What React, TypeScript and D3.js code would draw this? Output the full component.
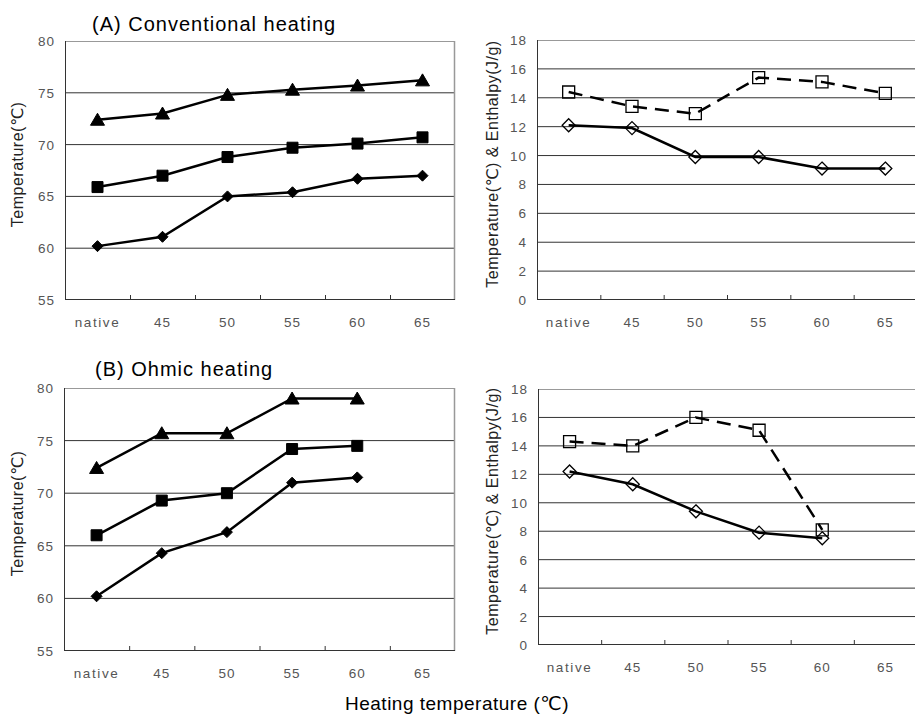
import React from 'react';
import * as d3 from 'd3';

// x categories (heating temperature)
const categories = ['native', '45', '50', '55', '60', '65'];

// (A) conventional heating, transition temperatures (℃)
const convOnset = [60.2, 61.1, 65.0, 65.4, 66.7, 67.0];
const convPeak = [65.9, 67.0, 68.8, 69.7, 70.1, 70.7];
const convConclusion = [72.4, 73.0, 74.8, 75.3, 75.7, 76.2];
// (A) range (℃) and enthalpy (J/g)
const convRange = [12.1, 11.9, 9.9, 9.9, 9.1, 9.1];
const convEnthalpy = [14.4, 13.4, 12.9, 15.4, 15.1, 14.3];

// (B) ohmic heating (no 65 sample)
const ohmOnset = [60.2, 64.3, 66.3, 71.0, 71.5];
const ohmPeak = [66.0, 69.3, 70.0, 74.2, 74.5];
const ohmConclusion = [72.4, 75.7, 75.7, 79.0, 79.0];
const ohmRange = [12.2, 11.3, 9.4, 7.9, 7.5];
const ohmEnthalpy = [14.3, 14.0, 16.0, 15.1, 8.1];

const tempTicks = [55, 60, 65, 70, 75, 80];
const dscTicks = [0, 2, 4, 6, 8, 10, 12, 14, 16, 18];

const FONT = '"Liberation Sans", "DejaVu Sans", Arial, sans-serif';

type Marker = 'triangle' | 'square' | 'diamond';
type Series = { values: number[]; marker: Marker; filled: boolean; dashed?: boolean };

function markerPath(kind: Marker, filled: boolean) {
  if (kind === 'triangle') return 'M0,-6.5L7,5.5L-7,5.5Z';
  if (kind === 'square') return filled ? 'M-5.5,-5.5H5.5V5.5H-5.5Z' : 'M-6,-6H6V6H-6Z';
  return filled ? 'M0,-5.5L5.5,0L0,5.5L-5.5,0Z' : 'M0,-6.5L6.5,0L0,6.5L-6.5,0Z';
}

type PanelProps = {
  left: number; right: number; top: number; bottom: number;
  ticks: number[]; series: Series[]; yTitle: string; yTitleX: number;
};

function Panel({ left, right, top, bottom, ticks, series, yTitle, yTitleX }: PanelProps) {
  const x = d3.scaleBand<string>().domain(categories).range([left, right]);
  const y = d3.scaleLinear().domain([ticks[0], ticks[ticks.length - 1]]).range([bottom, top]);
  const line = d3.line<number>()
    .x((_, i) => (x(categories[i]) as number) + x.bandwidth() / 2)
    .y(d => y(d));
  const inner = ticks.slice(1, -1);
  return (
    <g>
      {inner.map(t => (
        <line key={t} x1={left} x2={right} y1={y(t)} y2={y(t)} stroke="#333" strokeWidth={1} />
      ))}
      <line x1={left} x2={right} y1={top + 0.5} y2={top + 0.5} stroke="#999" strokeWidth={1} />
      <line x1={right - 0.5} x2={right - 0.5} y1={top} y2={bottom} stroke="#999" strokeWidth={1.5} />
      <line x1={left + 0.5} x2={left + 0.5} y1={top} y2={bottom} stroke="#333" strokeWidth={1} />
      <line x1={left} x2={right} y1={bottom - 0.5} y2={bottom - 0.5} stroke="#333" strokeWidth={1} />
      {categories.slice(1).map(c => (
        <line key={c} x1={(x(c) as number) + 0.5} x2={(x(c) as number) + 0.5}
          y1={bottom} y2={bottom - 5} stroke="#333" strokeWidth={1} />
      ))}
      {ticks.map(t => (
        <text key={t} x={left - 10} y={y(t) + 5} textAnchor="end" fontSize={13.5}
          fill="#555" fontFamily={FONT} letterSpacing={1}>{t}</text>
      ))}
      {categories.map(c => (
        <text key={c} x={(x(c) as number) + x.bandwidth() / 2} y={bottom + 27} textAnchor="middle"
          fontSize={13.5} fill="#555" fontFamily={FONT}
          letterSpacing={c === 'native' ? 1.6 : 1}>{c}</text>
      ))}
      <text transform={`translate(${yTitleX},${(top + bottom) / 2 - 6}) rotate(-90)`} textAnchor="middle"
        fontSize={16} fill="#222" fontFamily={FONT} letterSpacing={0.5}>{yTitle}</text>
      {series.map((s, k) => (
        <g key={k}>
          <path d={line(s.values) || ''} fill="none" stroke="#000" strokeWidth={2.5}
            strokeDasharray={s.dashed ? '14,8' : undefined} />
          {s.values.map((v, i) => (
            <path key={i} d={markerPath(s.marker, s.filled)}
              transform={`translate(${(x(categories[i]) as number) + x.bandwidth() / 2},${y(v)})`}
              fill={s.filled ? '#000' : 'none'} stroke="#000" strokeWidth={s.filled ? 1 : 1.3} />
          ))}
        </g>
      ))}
    </g>
  );
}

export default function App() {
  return (
    <svg width={915} height={725} style={{ position: 'absolute', left: 0, top: 0, background: '#fff' }}>
      <rect width={915} height={725} fill="#fff" />
      <text x={92} y={31} fontSize={20} fontFamily={FONT} fill="#000" letterSpacing={1}>(A) Conventional heating</text>
      <text x={95} y={376} fontSize={20} fontFamily={FONT} fill="#000" letterSpacing={1}>(B) Ohmic heating</text>
      <Panel left={65} right={455} top={41} bottom={300} ticks={tempTicks} yTitle="Temperature(℃)" yTitleX={23}
        series={[
          { values: convConclusion, marker: 'triangle', filled: true },
          { values: convPeak, marker: 'square', filled: true },
          { values: convOnset, marker: 'diamond', filled: true },
        ]} />
      <Panel left={537} right={917} top={40} bottom={300} ticks={dscTicks}
        yTitle="Temperature(℃) & Enthalpy(J/g)" yTitleX={498}
        series={[
          { values: convEnthalpy, marker: 'square', filled: false, dashed: true },
          { values: convRange, marker: 'diamond', filled: false },
        ]} />
      <Panel left={64} right={455} top={388} bottom={651} ticks={tempTicks} yTitle="Temperature(℃)" yTitleX={23}
        series={[
          { values: ohmConclusion, marker: 'triangle', filled: true },
          { values: ohmPeak, marker: 'square', filled: true },
          { values: ohmOnset, marker: 'diamond', filled: true },
        ]} />
      <Panel left={538} right={917} top={389} bottom={645} ticks={dscTicks}
        yTitle="Temperature(℃) & Enthalpy(J/g)" yTitleX={498}
        series={[
          { values: ohmEnthalpy, marker: 'square', filled: false, dashed: true },
          { values: ohmRange, marker: 'diamond', filled: false },
        ]} />
      <text x={457} y={710} textAnchor="middle" fontSize={19} fontFamily={FONT} fill="#000" letterSpacing={0.5}>
        Heating temperature (℃)
      </text>
    </svg>
  );
}
